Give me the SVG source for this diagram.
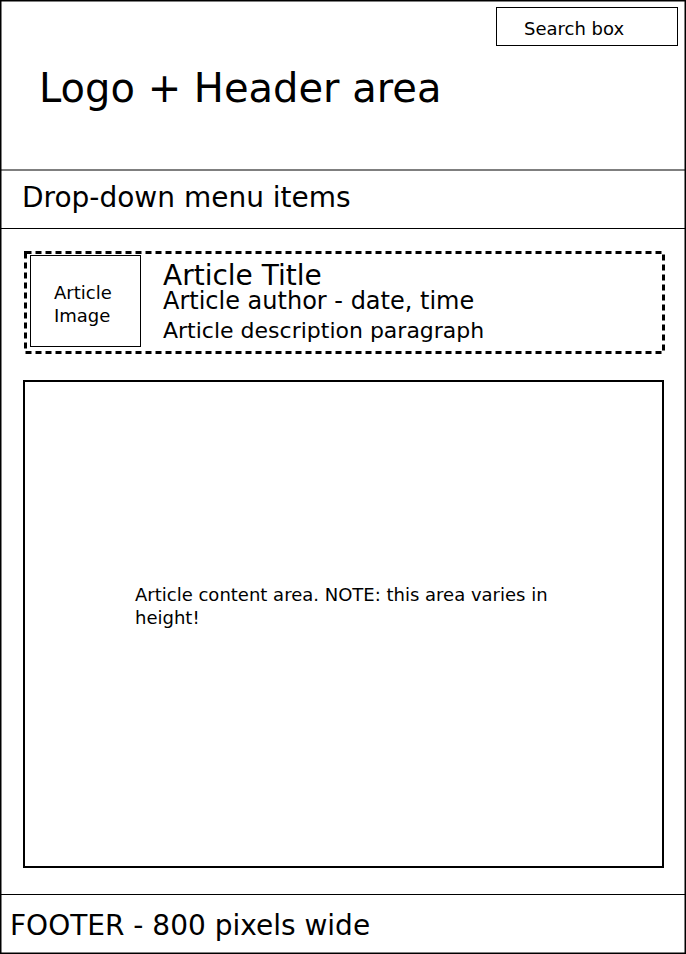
<svg xmlns="http://www.w3.org/2000/svg" width="686" height="954" viewBox="0 0 686 954">
<style>
text{font-family:"DejaVu Sans",sans-serif;fill:#000}
.ln{stroke:#000;fill:none}
</style>
<rect x="0" y="0" width="686" height="954" fill="#fff"/>
<g id="page"><rect class="ln" x="0.75" y="0.75" width="684.5" height="952.5" stroke-width="1.5"/></g>
<g id="header">
<line class="ln" x1="0" y1="170" x2="686" y2="170" stroke="#333" stroke-width="1.2"/>
<text x="39" y="102" font-size="40">Logo + Header area</text>
</g>
<g id="search">
<rect class="ln" x="496.5" y="7.5" width="181" height="38" stroke-width="1"/>
<text x="524" y="35" font-size="18">Search box</text>
</g>
<g id="menu">
<line class="ln" x1="0" y1="228.5" x2="686" y2="228.5" stroke="#777" stroke-width="1.2"/>
<text x="22" y="207" font-size="28">Drop-down menu items</text>
</g>
<g id="article-summary">
<rect class="ln" x="25.5" y="252.5" width="638" height="100" stroke-width="3" stroke-dasharray="6,4"/>
</g>
<g id="article-image">
<rect class="ln" x="30.5" y="255.5" width="110" height="91" stroke="#555" stroke-width="1"/>
<text x="54" y="299" font-size="18">Article</text>
<text x="54" y="322" font-size="18">Image</text>
</g>
<g id="article-text">
<text x="163" y="285" font-size="28">Article Title</text>
<text x="163" y="309" font-size="24">Article author - date, time</text>
<text x="163" y="338" font-size="22">Article description paragraph</text>
</g>
<g id="content">
<rect class="ln" x="24" y="381" width="639" height="486" stroke-width="2"/>
<text x="135" y="601" font-size="18">Article content area. NOTE: this area varies in</text>
<text x="135" y="624" font-size="18">height!</text>
</g>
<g id="footer">
<line class="ln" x1="0" y1="894.5" x2="686" y2="894.5" stroke="#777" stroke-width="1.2"/>
<text x="10" y="935" font-size="28">FOOTER - 800 pixels wide</text>
</g>
<g id="connectors"></g>
</svg>
